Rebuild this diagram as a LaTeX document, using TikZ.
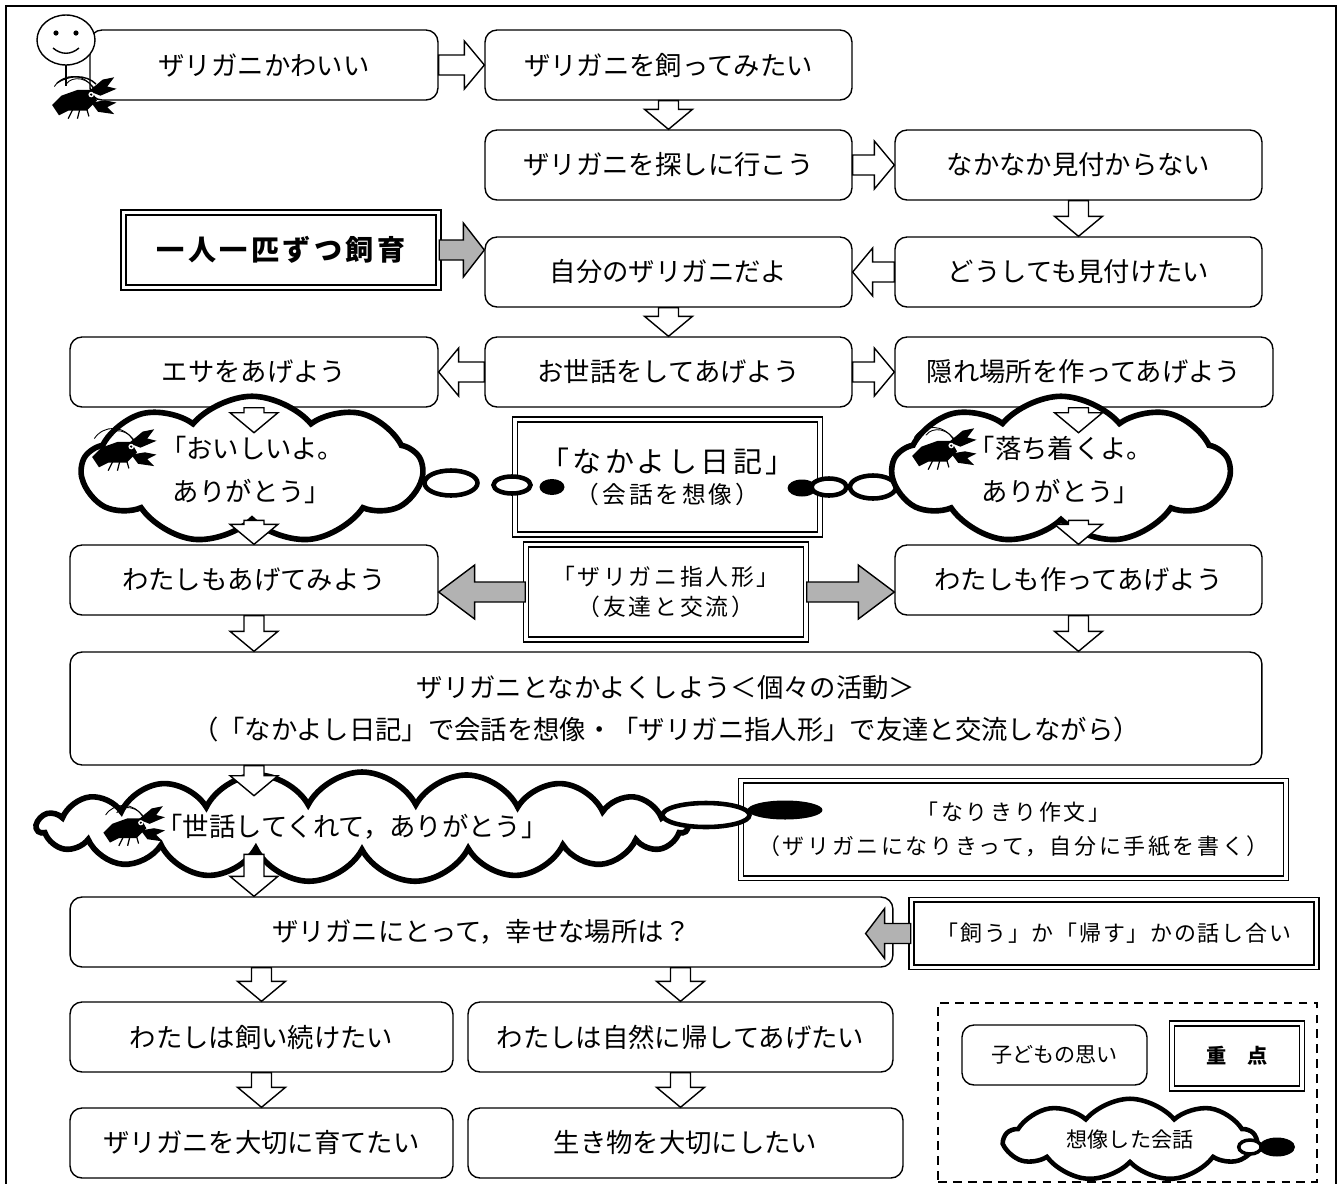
\documentclass[tikz,border=0pt]{standalone}
\usepackage{fontspec}
\setmainfont{Noto Sans CJK JP}
\newfontfamily\spaced{Noto Sans CJK JP}[LetterSpace=12]
\usetikzlibrary{calc,shapes.symbols,shapes.geometric}

\tikzset{
  wish/.style={draw, line width=.8pt, rounded corners=.24cm, fill=white,
    minimum width=7.34cm, minimum height=1.4cm, inner sep=0pt,
    font=\fontsize{15pt}{24pt}\selectfont},
  focus/.style={draw, double, double distance=1.8pt, line width=.9pt,
    fill=white, inner sep=0pt, align=center},
  talk/.style={cloud, cloud ignores aspect, cloud puff arc=100, draw,
    line width=3.2pt, fill=white, inner sep=0pt, align=center,
    font=\fontsize{15pt}{24pt}\selectfont},
  bubble/.style={ellipse, draw, line width=2.6pt, fill=white, inner sep=0pt},
  blob/.style={ellipse, fill=black, inner sep=0pt},
  % hollow block arrows
  arr shaft/.store in=\arrshaft, arr head/.store in=\arrhead,
  arr len/.store in=\arrlen,
  arr shaft=.2cm, arr head=.48cm, arr len=.4cm,
  blk/.style={draw, line width=.8pt, fill=white, to path={
      ($(\tikztostart)!\arrshaft!90:(\tikztotarget)$)
      -- ($(\tikztotarget)!\arrlen!(\tikztostart)!\arrshaft!90:(\tikztotarget)$)
      -- ($(\tikztotarget)!\arrlen!(\tikztostart)!\arrhead!90:(\tikztotarget)$)
      -- (\tikztotarget)
      -- ($(\tikztotarget)!\arrlen!(\tikztostart)!\arrhead!-90:(\tikztotarget)$)
      -- ($(\tikztotarget)!\arrlen!(\tikztostart)!\arrshaft!-90:(\tikztotarget)$)
      -- ($(\tikztostart)!\arrshaft!-90:(\tikztotarget)$) -- cycle}},
  gblk/.style={blk, fill=gray!60, arr len=.72cm, arr head=.54cm},
  crayfish/.pic={
    % antennae
    \draw[line width=.5pt] (10,-8) .. controls (2,-22) and (-16,-22) .. (-24,-10);
    \draw[line width=.5pt] (12,-6) .. controls (6,-18) and (-8,-20) .. (-14,-12);
    % body and tail
    \fill (-26,6) -- (-18,-2) -- (-4,-7) -- (8,-7) -- (13,2) -- (4,11)
      -- (-12,11) -- (-20,15) -- cycle;
    % claws
    \fill (6,-6) -- (18,-16) -- (28,-18) -- (22,-10) -- (30,-8) -- (16,-2) -- cycle;
    \fill (8,4) -- (20,2) -- (30,4) -- (22,8) -- (28,14) -- (14,12) -- cycle;
    \fill[white] (8,-3) circle (2.4);
    \fill (8,-3) circle (1.1);
    % legs
    \draw[line width=.7pt] (-8,10) -- (-12,18) (-2,10) -- (-4,18) (4,9) -- (6,16);
  }
}

\begin{document}
\begin{tikzpicture}[x=0.02cm, y=-0.02cm]
\useasboundingbox (0,0) rectangle (1340,1184);
\draw[line width=.8pt] (6,1184) -- (6,6) -- (1336,6) -- (1336,1184);

% first rows
\node[wish, minimum width=6.96cm] (kawaii) at (264,65) {ザリガニかわいい};
\node[wish] (katte) at (668.5,65) {ザリガニを飼ってみたい};
\node[wish] (sagasu) at (668.5,165) {ザリガニを探しに行こう};
\node[wish] (nai) at (1078.5,165) {なかなか見付からない};
\node[focus, minimum width=6.3cm, minimum height=1.5cm,
  font=\fontsize{16pt}{20pt}\selectfont\spaced\bfseries] (hitori) at (281,250) {一人一匹ずつ飼育};
\node[wish] (jibun) at (668.5,272) {自分のザリガニだよ};
\node[wish] (mitai) at (1078.5,272) {どうしても見付けたい};
\node[wish, minimum width=7.36cm] (esa) at (254,372) {エサをあげよう};
\node[wish] (osewa) at (668.5,372) {お世話をしてあげよう};
\node[wish, minimum width=7.56cm] (kakure) at (1084,372) {隠れ場所を作ってあげよう};

% diary and thought clouds
\node[focus, minimum width=6.1cm, minimum height=2.3cm] (nikki) at (667.5,477)
  {{\fontsize{16.5pt}{19pt}\selectfont\spaced 「なかよし日記」}\\[4pt]
   {\fontsize{13.5pt}{16pt}\selectfont\spaced （会話を想像）}};
\node[bubble, minimum width=1.06cm, minimum height=.5cm] (bl1) at (451,483) {};
\node[bubble, minimum width=.74cm, minimum height=.34cm] (bl2) at (512,485) {};
\node[blob, minimum width=.5cm, minimum height=.32cm] (bl3) at (552,487) {};
\node[blob, minimum width=.58cm, minimum height=.34cm] (br3) at (802,488) {};
\node[bubble, minimum width=.7cm, minimum height=.34cm] (br2) at (829,487) {};
\node[bubble, minimum width=.92cm, minimum height=.46cm] (br1) at (873,487) {};
\node[talk, cloud puffs=9, minimum width=6.8cm, minimum height=2.95cm] (omoiL) at (252,470)
  {「おいしいよ。\\ありがとう」};
\node[talk, cloud puffs=9, minimum width=6.74cm, minimum height=2.95cm] (omoiR) at (1061,470)
  {「落ち着くよ。\\ありがとう」};

\node[wish, minimum width=7.36cm] (ageru) at (254,580) {わたしもあげてみよう};
\node[focus, minimum width=5.6cm, minimum height=1.9cm,
  font=\fontsize{13pt}{17pt}\selectfont\spaced] (yubi) at (666,592)
  {「ザリガニ指人形」\\（友達と交流）};
\node[wish] (tsukuru) at (1078.5,580) {わたしも作ってあげよう};
\node[wish, minimum width=23.84cm, minimum height=2.26cm, align=center] (nakayoku) at (666,708.5)
  {ザリガニとなかよくしよう＜個々の活動＞\\
   （「なかよし日記」で会話を想像・「ザリガニ指人形」で友達と交流しながら）};

% letter from the crayfish
\node[focus, minimum width=10.9cm, minimum height=1.95cm,
  font=\fontsize{12.5pt}{19pt}\selectfont\spaced] (sakubun) at (1013.5,829.5)
  {「なりきり作文」\\（ザリガニになりきって，自分に手紙を書く）};
\node[talk, cloud puffs=19, cloud puff arc=125, minimum width=13.0cm, minimum height=2.2cm]
  (omoiM) at (362,827) {「世話してくれて，ありがとう」\hspace*{.4cm}};
\node[bubble, minimum width=1.74cm, minimum height=.48cm] (bm1) at (706,815) {};
\node[blob, minimum width=1.5cm, minimum height=.38cm] (bm2) at (785,810) {};

\node[wish, minimum width=16.46cm] (basho) at (481.5,932) {ザリガニにとって，幸せな場所は？};
\node[focus, minimum width=8.1cm, minimum height=1.35cm,
  font=\fontsize{12.5pt}{16pt}\selectfont\addfontfeature{LetterSpace=8}] (hanashi) at (1114,933.5)
  {「飼う」か「帰す」かの話し合い};
\node[wish, minimum width=7.66cm] (tsuzuke) at (261.5,1037) {わたしは飼い続けたい};
\node[wish, minimum width=8.5cm] (kaesu) at (680.5,1037) {わたしは自然に帰してあげたい};
\node[wish, minimum width=7.66cm] (sodate) at (261.5,1143) {ザリガニを大切に育てたい};
\node[wish, minimum width=8.7cm] (ikimono) at (685.5,1143) {生き物を大切にしたい};

% key
\node[draw, dash pattern=on 5pt off 3.5pt, line width=1.1pt,
  minimum width=7.58cm, minimum height=3.58cm] (hanrei) at (1127.5,1092.5) {};
\node[wish, minimum width=3.7cm, minimum height=1.2cm,
  font=\fontsize{12pt}{15pt}\selectfont] (k-omoi) at (1054.5,1055) {子どもの思い};
\node[focus, minimum width=2.6cm, minimum height=1.3cm,
  font=\fontsize{11.5pt}{14pt}\selectfont\bfseries] (k-juten) at (1237,1056) {重　点};
\node[talk, cloud puffs=9, line width=2.6pt, minimum width=5.0cm, minimum height=1.65cm,
  font=\fontsize{12pt}{15pt}\selectfont] (k-kaiwa) at (1130,1140) {想像した会話};
\node[bubble, line width=2pt, minimum width=.45cm, minimum height=.28cm] (kb1) at (1250,1147) {};
\node[blob, minimum width=.72cm, minimum height=.38cm] (kb2) at (1277,1147) {};

% the child and the crayfish
\draw[line width=.8pt, fill=white] (66,40) ellipse (29 and 25);
\fill (56,33) circle (2.6) (76,33) circle (2.6);
\draw[line width=.8pt] (53,48) .. controls (61,55) and (71,55) .. (79,48);
\draw[line width=.8pt] (66,65) -- (66,86);
\draw[line width=.8pt] (57,83) .. controls (68,75) and (86,74) .. (96,84);
\pic[scale=1.15] at (82,98) {crayfish};
\pic[scale=1.15] at (122,450) {crayfish};
\pic[scale=1.15] at (942,449) {crayfish};
\pic[scale=1.1] at (132,826) {crayfish};

% free ends inside the clouds
\coordinate (inL) at ($(esa.south)+(0,25)$);
\coordinate (inR) at ($(kakure.south -| nai.south)+(0,25)$);
\coordinate (outL) at ($(ageru.north)+(0,-24)$);
\coordinate (outR) at ($(tsukuru.north)+(0,-24)$);
\coordinate (inM) at ($(ageru.south |- nakayoku.south)+(0,30)$);
\coordinate (outM) at ($(ageru.north |- basho.north)+(0,-42)$);
\coordinate (hx) at ($(basho.east)+(-28,0)$);

% arrows
\draw[blk] (kawaii.east) to (katte.west);
\draw[blk] (katte.south) to (sagasu.north);
\draw[blk] (sagasu.east) to (nai.west);
\draw[blk] (nai.south) to (mitai.north);
\draw[blk] (mitai.west) to (jibun.east);
\draw[gblk, arr len=.42cm] (hitori.east) to (hitori.east -| jibun.west);
\draw[blk] (jibun.south) to (osewa.north);
\draw[blk] (osewa.west) to (esa.east);
\draw[blk] (osewa.east) to (kakure.west);
\draw[blk] (esa.south) to (inL);
\draw[blk] (kakure.south -| nai.south) to (inR);
\draw[blk] (outL) to (ageru.north);
\draw[blk] (outR) to (tsukuru.north);
\draw[gblk] (yubi.west) to (yubi.west -| ageru.east);
\draw[gblk] (yubi.east) to (yubi.east -| tsukuru.west);
\draw[blk] (ageru.south) to (ageru.south |- nakayoku.north);
\draw[blk] (tsukuru.south) to (tsukuru.south |- nakayoku.north);
\draw[blk] (ageru.south |- nakayoku.south) to (inM);
\draw[blk] (outM) to (outM |- basho.north);
\draw[gblk, arr len=.38cm, arr head=.5cm] (hanashi.west) to (hanashi.west -| hx);
\draw[blk] (tsuzuke.north |- basho.south) to (tsuzuke.north);
\draw[blk] (kaesu.north |- basho.south) to (kaesu.north);
\draw[blk] (tsuzuke.south) to (sodate.north);
\draw[blk] (kaesu.south) to (kaesu.south |- ikimono.north);
\end{tikzpicture}
\end{document}
